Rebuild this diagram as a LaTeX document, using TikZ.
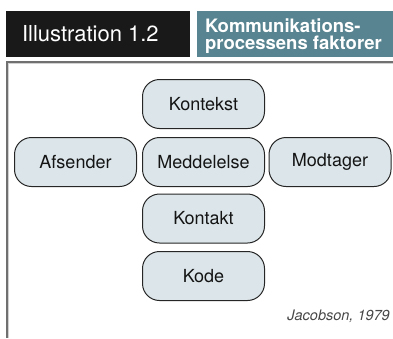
\documentclass[tikz,border=0pt]{standalone}
\usepackage{fontspec}
\setmainfont{TeX Gyre Heros}
\definecolor{headteal}{HTML}{578490}
\definecolor{boxfill}{HTML}{DCE6EA}
\definecolor{boxline}{HTML}{262626}
\definecolor{framegray}{HTML}{707070}
\begin{document}
\begin{tikzpicture}[x=1pt,y=-1pt,
  factor/.style={draw=boxline, line width=1pt, fill=boxfill, rounded corners=17pt,
    minimum width=122pt, minimum height=49pt, inner sep=0pt,
    font=\fontsize{18}{20}\selectfont, text=black!92},
  headbar/.style={inner sep=0pt, outer sep=0pt}]
\useasboundingbox (0,0) rectangle (393,338);
% header bars
\fill[black!90] (6,11) rectangle (190,57);
\fill[headteal] (197,11) rectangle (393,57);
\node[headbar, anchor=base west, text=white, font=\fontsize{22}{24}\selectfont] (title) at (22,41.5) {Illustration 1.2};
\node[headbar, anchor=base west, text=white, align=left,
  font=\fontsize{18.5}{17}\selectfont\bfseries] (subtitle) at (205,49.5)
  {Kommunikations-\\processens faktorer};
% frame
\draw[framegray, line width=1.6pt] (7,338) -- (7,62) -- (393,62);
\draw[black!18, line width=0.6pt] (8.6,338) -- (8.6,63.6) -- (393,63.6);
% factor boxes
\node[factor] (kontekst) at (203.5,104) {Kontekst};
\node[factor] (afsender) at (75.5,162) {Afsender};
\node[factor] (meddelelse) at (203.5,162) {Meddelelse};
\node[factor] (modtager) at (330,162) {Modtager};
\node[factor] (kontakt) at (203.5,218.5) {Kontakt};
\node[factor] (kode) at (203.5,276) {Kode};
% source
\node[anchor=base east, inner sep=0pt, text=black!72,
  font=\fontsize{14.5}{16}\selectfont\itshape] (source) at (390,320.5) {Jacobson, 1979};
\end{tikzpicture}
\end{document}
